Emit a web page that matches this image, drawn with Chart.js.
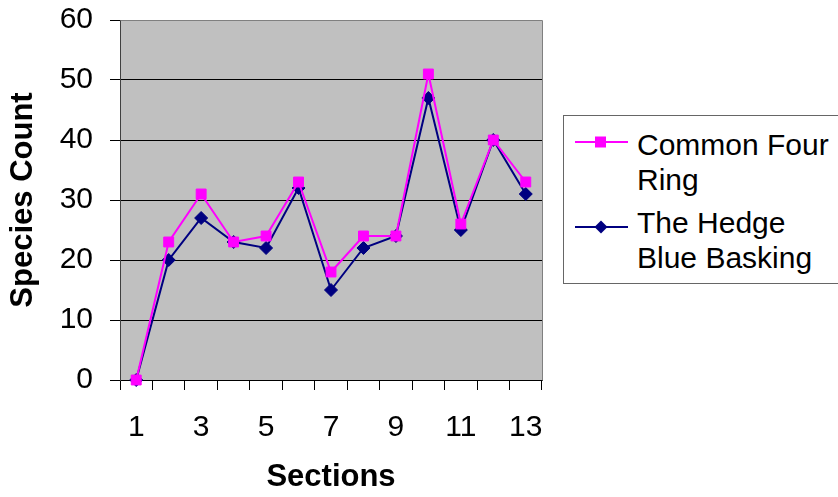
<!DOCTYPE html>
<html>
<head>
<meta charset="utf-8">
<script src="https://cdn.jsdelivr.net/npm/chart.js@4/dist/chart.umd.min.js"></script>
<style>
  html, body { margin: 0; padding: 0; background: #fff; overflow: hidden; }
  #wrap { position: relative; width: 838px; height: 497px; }
  #legend {
    position: absolute; left: 563px; top: 115px; width: 300px; height: 169px;
    box-sizing: border-box; border: 1px solid #666; background: #fff;
    font-family: "Liberation Sans", Arial, sans-serif; font-size: 30px; color: #000;
  }
  .entry { position: absolute; left: 0; top: 0; width: 100%; }
  .entry svg { position: absolute; left: 11px; top: 0; }
  .entry span { position: absolute; left: 73px; width: 205px; line-height: 35px; white-space: normal; }
</style>
</head>
<body>
<div id="wrap">
  <canvas id="chart" width="838" height="497"></canvas>
  <div id="legend"></div>
</div>
<script>
// Survey sections along the transect
const sections = ['1', '2', '3', '4', '5', '6', '7', '8', '9', '10', '11', '12', '13'];

// Species counted per section
const commonFourRing   = [0, 23, 31, 23, 24, 33, 18, 24, 24, 51, 26, 40, 33];
const hedgeBlueBasking = [0, 20, 27, 23, 22, 32, 15, 22, 24, 47, 25, 40, 31];

const seriesNames  = ['Common Four Ring', 'The Hedge Blue Basking'];
const seriesColors = ['#FF00FF', '#000080'];

// Y axis range
const yMin = 0, yMax = 60, yStep = 10;

const FONT = '"Liberation Sans", Arial, sans-serif';
Chart.defaults.font.family = FONT;
Chart.defaults.color = '#000';

// Grey plot background plus the light frame on the top and right edges
const plotFrame = {
  id: 'plotFrame',
  beforeDraw(chart) {
    const { ctx, chartArea: a } = chart;
    ctx.save();
    ctx.fillStyle = '#C0C0C0';
    ctx.fillRect(a.left, a.top, a.right - a.left, a.bottom - a.top);
    ctx.restore();
  },
  beforeDatasetsDraw(chart) {
    const { ctx, chartArea: a } = chart;
    ctx.save();
    ctx.strokeStyle = '#808080';
    ctx.lineWidth = 1;
    ctx.beginPath();
    ctx.moveTo(Math.round(a.left) + 0.5, Math.round(a.top) + 0.5);
    ctx.lineTo(Math.round(a.right) + 0.5, Math.round(a.top) + 0.5);
    ctx.lineTo(Math.round(a.right) + 0.5, Math.round(a.bottom) + 0.5);
    ctx.stroke();
    ctx.restore();
  }
};

// Fixed axis box sizes so the plot area lands where it should
const fixX = s => { s.height = 117; s.paddingLeft = 0; s.paddingRight = 0; };
const fixY = s => { s.width = 120; s.paddingTop = 0; s.paddingBottom = 0; };

const chart = new Chart(document.getElementById('chart'), {
  type: 'line',
  data: {
    labels: sections,
    datasets: [
      {
        label: seriesNames[0],
        data: commonFourRing,
        borderColor: seriesColors[0],
        backgroundColor: seriesColors[0],
        borderWidth: 2,
        pointStyle: 'rect',
        pointRadius: 7,
        pointBorderWidth: 1,
        tension: 0,
        clip: false
      },
      {
        label: seriesNames[1],
        data: hedgeBlueBasking,
        borderColor: seriesColors[1],
        backgroundColor: seriesColors[1],
        borderWidth: 2,
        pointStyle: 'rectRot',
        pointRadius: 6.5,
        pointBorderWidth: 1,
        tension: 0,
        clip: false
      }
    ]
  },
  options: {
    responsive: false,
    animation: false,
    devicePixelRatio: 1,
    layout: { padding: { left: 0, top: 20, right: 296, bottom: 0 } },
    plugins: {
      legend: { display: false },
      tooltip: { enabled: false }
    },
    scales: {
      x: {
        type: 'category',
        offset: true,
        grid: { offset: true, drawOnChartArea: false, drawTicks: true, tickLength: 10, color: '#000', lineWidth: 1 },
        border: { display: true, color: '#000', width: 1 },
        ticks: {
          autoSkip: false, maxRotation: 0, minRotation: 0,
          font: { size: 30 }, color: '#000', padding: 20,
          callback: (v, i) => (i % 2 === 0 ? sections[i] : '')
        },
        title: { display: true, text: 'Sections', font: { size: 31, weight: 'bold' }, color: '#000', padding: { top: 0, bottom: 1 } },
        afterFit: fixX
      },
      y: {
        min: yMin, max: yMax,
        grid: {
          color: ctx => (ctx.tick && ctx.tick.value === yMax ? '#808080' : '#000'),
          tickColor: '#000', tickLength: 10, lineWidth: 1
        },
        border: { display: true, color: '#404040', width: 1 },
        ticks: { stepSize: yStep, font: { size: 30 }, color: '#000', padding: 17 },
        title: { display: true, text: 'Species Count', font: { size: 31, weight: 'bold' }, color: '#000', padding: { top: 5, bottom: 0 } },
        afterFit: fixY
      }
    }
  },
  plugins: [plotFrame]
});

// Legend built from the dataset names and colours
const legend = document.getElementById('legend');
const entryTops = [11, 89];
const markerY   = [26, 111];
chart.data.datasets.forEach((ds, i) => {
  const entry = document.createElement('div');
  entry.className = 'entry';
  const y = markerY[i];
  const marker = ds.pointStyle === 'rect'
    ? `<rect x="20" y="${y - 5.5}" width="11" height="11" fill="${ds.borderColor}"/>`
    : `<polygon points="19.5,${y} 26,${y - 6.5} 32.5,${y} 26,${y + 6.5}" fill="${ds.borderColor}"/>`;
  entry.innerHTML =
    `<svg width="56" height="140" xmlns="http://www.w3.org/2000/svg">` +
    `<line x1="0" y1="${y}" x2="53" y2="${y}" stroke="${ds.borderColor}" stroke-width="2"/>` +
    marker + `</svg>` +
    `<span style="top:${entryTops[i]}px">${ds.label}</span>`;
  legend.appendChild(entry);
});
</script>
</body>
</html>
